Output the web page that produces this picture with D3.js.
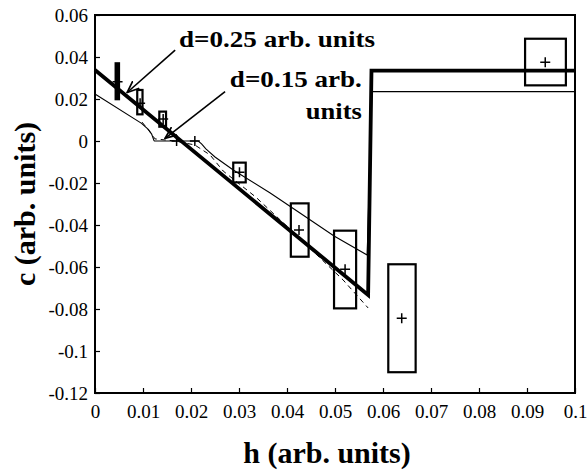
<!DOCTYPE html>
<html><head><meta charset="utf-8">
<script src="https://cdn.jsdelivr.net/npm/d3@7"></script>
<style>body{margin:0;background:#fff}</style>
</head><body>
<svg id="chart" width="587" height="471"></svg>
<script>
// ---- data ----
const xTickValues = [0,0.01,0.02,0.03,0.04,0.05,0.06,0.07,0.08,0.09,0.1];
const xTickLabels = ["0","0.01","0.02","0.03","0.04","0.05","0.06","0.07","0.08","0.09","0.1"];
const yTickValues = [0.06,0.04,0.02,0,-0.02,-0.04,-0.06,-0.08,-0.1,-0.12];
const yTickLabels = ["0.06","0.04","0.02","0","-0.02","-0.04","-0.06","-0.08","-0.1","-0.12"];

// measured points (plus markers) and their uncertainty boxes
const pointH = [0.0047,0.0094,0.0142,0.0170,0.0208,0.0301,0.0425,0.0521,0.0639,0.0938];
const pointC = [0.0282,0.0180,0.0105,0.0000,0.0000,-0.0149,-0.0424,-0.0611,-0.0844,0.0375];
const boxHLo = [0.0043,0.0088,0.0134,null,null,0.0288,0.0408,0.0498,0.0611,0.0896];
const boxHHi = [0.0050,0.0099,0.0148,null,null,0.0314,0.0445,0.0544,0.0668,0.0981];
const boxCLo = [0.0199,0.0127,0.0068,null,null,-0.0197,-0.0551,-0.0797,-0.1101,0.0265];
const boxCHi = [0.0370,0.0243,0.0140,null,null,-0.0103,-0.0297,-0.0427,-0.0587,0.0487];

// d = 0.25 model (thick line)
const thickH = [0,0.0569,0.0576,0.1];
const thickC = [0.0338,-0.0733,0.0335,0.0335];

// d = 0.15 model (thin line)
const thinH = [0,0.0097,0.0111,0.0118,0.0123,0.0124,0.0215,0.0222,0.0231,0.0250,0.0288,0.0365,0.0427,0.0498,0.0567,0.0577,0.1];
const thinC = [0.0224,0.0084,0.0055,0.0033,0.0002,0,0,-0.0014,-0.0038,-0.0076,-0.0138,-0.0248,-0.0343,-0.0452,-0.0543,0.0235,0.0235];

// dashed curve
const dashH = [0.0098,0.0113,0.0125,0.0167,0.0208,0.0240,0.0267,0.0335,0.0406,0.0469,0.0517,0.0569];
const dashC = [0.0090,0.0048,0.0010,0.0000,-0.0019,-0.0067,-0.0143,-0.0267,-0.0419,-0.0557,-0.0662,-0.0795];

// annotations (data coordinates)
const labelTexts = ["d=0.25 arb. units","d=0.15 arb.","units"];
const arrowFromH = [0.0167,0.0271];
const arrowFromC = [0.0433,0.0235];
const arrowToH = [0.0067,0.0146];
const arrowToC = [0.0231,0.0013];

const FONT = '"Liberation Serif", Tinos, "Times New Roman", monospace';

// ---- drawing ----
const M = {left:95, right:575, top:15, bottom:393};
const svg = d3.select("#chart");
const x = d3.scaleLinear().domain([0,0.1]).range([M.left,M.right]);
const y = d3.scaleLinear().domain([-0.12,0.06]).range([M.bottom,M.top]);

svg.append("defs").append("marker")
  .attr("id","arr").attr("viewBox","0 -5 12 10").attr("refX",11).attr("refY",0)
  .attr("markerUnits","userSpaceOnUse").attr("markerWidth",13).attr("markerHeight",11)
  .attr("orient","auto")
  .append("path").attr("d","M0,-4.5L11,0L0,4.5").attr("fill","none")
  .attr("stroke","#000").attr("stroke-width",1.6);

// axes
const xAxis = d3.axisBottom(x).tickValues(xTickValues)
  .tickFormat((d,i)=>xTickLabels[i]).tickSizeInner(-5).tickSizeOuter(0).tickPadding(12);
const gx = svg.append("g").attr("transform",`translate(0,${M.bottom})`).call(xAxis);
gx.attr("font-family",null).attr("font-size",null);
gx.select(".domain").remove();
gx.selectAll("line").attr("stroke","#000").attr("stroke-width",1.2);
gx.selectAll("text").style("font-family",FONT).style("font-size","19px").attr("fill","#000");

const yAxis = d3.axisLeft(y).tickValues(yTickValues)
  .tickFormat((d,i)=>yTickLabels[i]).tickSizeInner(-5).tickSizeOuter(0).tickPadding(7);
const gy = svg.append("g").attr("transform",`translate(${M.left},0)`).call(yAxis);
gy.attr("font-family",null).attr("font-size",null);
gy.select(".domain").remove();
gy.selectAll("line").attr("stroke","#000").attr("stroke-width",1.2);
gy.selectAll("text").style("font-family",FONT).style("font-size","19px").attr("fill","#000");

// frame
svg.append("rect").attr("x",M.left).attr("y",M.top)
  .attr("width",M.right-M.left).attr("height",M.bottom-M.top)
  .attr("fill","none").attr("stroke","#000").attr("stroke-width",2);

// axis titles
svg.append("text").attr("x",327).attr("y",463).attr("text-anchor","middle")
  .style("font-family",FONT).style("font-weight","bold").style("font-size","30px")
  .text("h (arb. units)");
svg.append("text").attr("transform","translate(35,204) rotate(-90)").attr("text-anchor","middle")
  .style("font-family",FONT).style("font-weight","bold").style("font-size","30px")
  .text("c (arb. units)");

const line = d3.line().x(d=>x(d[0])).y(d=>y(d[1]));

// dashed curve
svg.append("path").attr("d",line(d3.zip(dashH,dashC)))
  .attr("fill","none").attr("stroke","#000").attr("stroke-width",1)
  .attr("stroke-dasharray","5,4");
// thin line d=0.15
svg.append("path").attr("d",line(d3.zip(thinH,thinC)))
  .attr("fill","none").attr("stroke","#000").attr("stroke-width",1.1);
// thick line d=0.25
svg.append("path").attr("d",line(d3.zip(thickH,thickC)))
  .attr("fill","none").attr("stroke","#000").attr("stroke-width",3.8)
  .attr("stroke-linejoin","miter");

// boxes (very narrow boxes render as a solid bar)
const boxes = d3.range(pointH.length).filter(i=>boxHLo[i]!==null);
svg.append("g").selectAll("rect").data(boxes).join("rect")
  .attr("x",i=>x(boxHLo[i])).attr("y",i=>y(boxCHi[i]))
  .attr("width",i=>x(boxHHi[i])-x(boxHLo[i]))
  .attr("height",i=>y(boxCLo[i])-y(boxCHi[i]))
  .attr("fill",i=>(x(boxHHi[i])-x(boxHLo[i]))<4 ? "#000" : "none")
  .attr("stroke","#000").attr("stroke-width",2.2);

// plus markers
const plus = svg.append("g").attr("stroke","#000").attr("stroke-width",1.5);
plus.selectAll("path").data(d3.range(pointH.length)).join("path")
  .attr("d",i=>{const px=x(pointH[i]),py=y(pointC[i]),r=5;
    return `M${px-r},${py}H${px+r}M${px},${py-r}V${py+r}`;});

// annotations
const ann = (t,xx,yy,len,anchor)=>svg.append("text").attr("x",xx).attr("y",yy)
  .attr("text-anchor",anchor)
  .style("font-family",FONT).style("font-weight","bold").style("font-size","23px")
  .attr("textLength",len).attr("lengthAdjust","spacingAndGlyphs").text(t);
ann(labelTexts[0],x(0.0175),y(0.0449),196,"start");
ann(labelTexts[1],x(0.0556),y(0.0259),132,"end");
ann(labelTexts[2],x(0.0556),y(0.0105),56,"end");

svg.append("g").selectAll("line").data(d3.range(arrowFromH.length)).join("line")
  .attr("x1",i=>x(arrowFromH[i])).attr("y1",i=>y(arrowFromC[i]))
  .attr("x2",i=>x(arrowToH[i])).attr("y2",i=>y(arrowToC[i]))
  .attr("stroke","#000").attr("stroke-width",1.6).attr("marker-end","url(#arr)");
</script>
</body></html>
